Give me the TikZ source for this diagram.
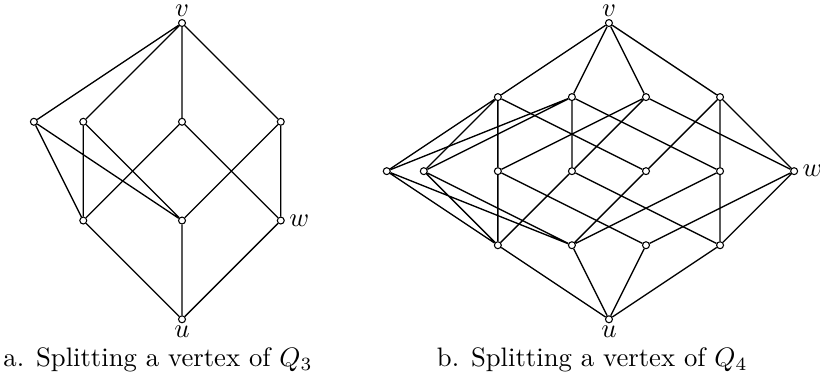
\documentclass[tikz,border=0pt]{standalone}
\usepackage{amsmath,amssymb}
\usetikzlibrary{positioning}

\begin{document}
\begin{tikzpicture}[font=\normalsize,
		vtx/.style={circle, draw, fill=white, line width=0.4pt, inner sep=0pt, minimum size=2.6pt},
		cubeline/.style={line width=0.5pt},
		lbl/.style={inner sep=0pt}]
			\useasboundingbox (-2.396,0.303) rectangle (8.398,-4.673);
			% a. Q_3, the vertex X split into X0 and X1
			\begin{scope}[x=1.3cm, y=1.3cm]
				\node[vtx] (V) at (0,0) {};
				\node[vtx] (X0) at (-1.5,-1) {};
				\node[vtx] (X1) at (-1,-1) {};
				\node[vtx] (Y) at (0,-1) {};
				\node[vtx] (Z) at (1,-1) {};
				\node[vtx] (XY) at (-1,-2) {};
				\node[vtx] (XZ) at (0,-2) {};
				\node[vtx] (W) at (1,-2) {};
				\node[vtx] (U) at (0,-3) {};
			\end{scope}
			\draw[cubeline] (X0)--(V)--(X1) (Y)--(V)--(Z);
			\draw[cubeline] (XY)--(X0)--(XZ) (XY)--(X1)--(XZ);
			\draw[cubeline] (XY)--(Y)--(W) (XZ)--(Z)--(W);
			\draw[cubeline] (XY)--(U)--(XZ) (U)--(W);
			\node[lbl, above=0.6pt of V] (lV) {$v$};
			\node[lbl, right=1.5pt of W] (lW) {$w$};
			\node[lbl, below=0.8pt of U] (lU) {$u$};
			\node[anchor=base] (capa) at (-0.316,-4.515) {a. Splitting a vertex of $Q_3$};
			% b. Q_4, the vertex S split into S0 and S1
			\begin{scope}[xshift=5.62cm, x=0.975cm, y=0.975cm]
				\node[vtx] (v) at (0,0) {};
				\node[vtx] (a1) at (-1.5,-1) {};
				\node[vtx] (a2) at (-0.5,-1) {};
				\node[vtx] (a3) at (0.5,-1) {};
				\node[vtx] (a4) at (1.5,-1) {};
				\node[vtx] (s0) at (-3,-2) {};
				\node[vtx] (s1) at (-2.5,-2) {};
				\node[vtx] (m1) at (-1.5,-2) {};
				\node[vtx] (m2) at (-0.5,-2) {};
				\node[vtx] (m3) at (0.5,-2) {};
				\node[vtx] (m4) at (1.5,-2) {};
				\node[vtx] (w) at (2.5,-2) {};
				\node[vtx] (b1) at (-1.5,-3) {};
				\node[vtx] (b2) at (-0.5,-3) {};
				\node[vtx] (b3) at (0.5,-3) {};
				\node[vtx] (b4) at (1.5,-3) {};
				\node[vtx] (u) at (0,-4) {};
			\end{scope}
			\draw[cubeline] (a1)--(v)--(a2) (a3)--(v)--(a4);
			\draw[cubeline] (s0)--(a1)--(s1) (m1)--(a1)--(m3);
			\draw[cubeline] (s0)--(a2)--(s1) (m2)--(a2)--(m4);
			\draw[cubeline] (m1)--(a3)--(m2) (a3)--(w);
			\draw[cubeline] (m3)--(a4)--(m4) (a4)--(w);
			\draw[cubeline] (b1)--(s0)--(b2) (b1)--(s1)--(b2);
			\draw[cubeline] (b1)--(m1)--(b3) (b1)--(m2)--(b4);
			\draw[cubeline] (m3)--(b2)--(m4)--(b4) (b3)--(w)--(b4);
			\draw[cubeline] (b1)--(u)--(b2) (b3)--(u)--(b4);
			\node[lbl, above=0.6pt of v] (lv) {$v$};
			\node[lbl, right=1.5pt of w] (lw) {$w$};
			\node[lbl, below=0.8pt of u] (lu) {$u$};
			\node[anchor=base] (capb) at (5.40,-4.515) {b. Splitting a vertex of $Q_4$};
		\end{tikzpicture}
\end{document}
